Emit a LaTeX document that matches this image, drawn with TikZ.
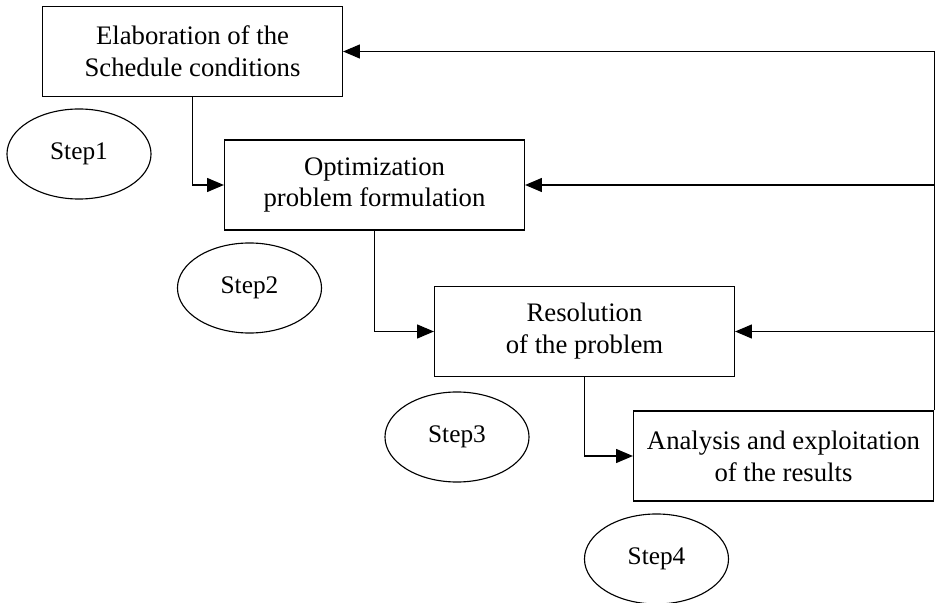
\documentclass[tikz,border=0pt]{standalone}
\usepackage{fontspec}
\setmainfont{Liberation Serif}
\usetikzlibrary{arrows.meta,shapes.geometric}

\begin{document}
\begin{tikzpicture}[x=0.025cm, y=-0.025cm,
        box/.style={draw=black, line width=0.8pt, solid, minimum width=7.5cm, minimum height=2.25cm, align=center, inner sep=0pt, font=\fontsize{19}{22.7}\selectfont},
        stepnode/.style={draw=black, line width=0.8pt, solid, ellipse, minimum width=3.6cm, minimum height=2.25cm, inner sep=0pt, font=\fontsize{18}{22.7}\selectfont},
        link/.style={draw=black, line width=0.8pt, solid, -{Triangle[length=0.42cm, width=0.35cm]}}]
        \useasboundingbox (0,0) rectangle (935,603);

        \node[box] (elab) at (192.5,51.5) {Elaboration of the\\Schedule conditions};
        \node[box] (optim) at (374.5,185) {Optimization\\problem formulation};
        \node[box] (resol) at (584.5,331.5) {Resolution\\of the problem};
        \node[box] (analy) at (783.5,456) {Analysis and exploitation\\of the results};

        \node[stepnode] (step1) at (79,154) {Step1};
        \node[stepnode] (step2) at (249.5,288) {Step2};
        \node[stepnode] (step3) at (457,437) {Step3};
        \node[stepnode] (step4) at (656.5,559) {Step4};

        \draw[link] (elab.south) |- (optim.west);
        \draw[link] (optim.south) |- (resol.west);
        \draw[link] (resol.south) |- (analy.west);

        \coordinate (back) at (analy.north east |- elab.east);
        \draw[draw=black, line width=0.8pt, solid] (analy.north east) -- (back);
        \draw[link] (back) -- (elab.east);
        \draw[link] (analy.north east |- optim.east) -- (optim.east);
        \draw[link] (analy.north east |- resol.east) -- (resol.east);
    \end{tikzpicture}
\end{document}
